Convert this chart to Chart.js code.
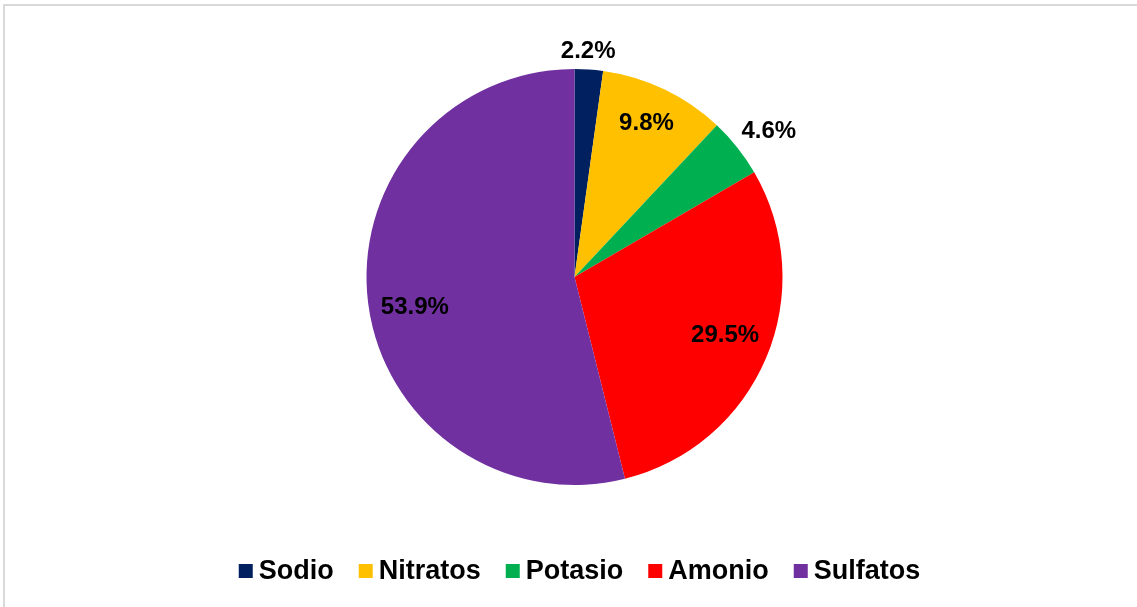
<!DOCTYPE html>
<html>
<head>
<meta charset="utf-8">
<script src="https://cdn.jsdelivr.net/npm/chart.js@4/dist/chart.umd.min.js"></script>
<style>
  html, body { margin: 0; padding: 0; background: #ffffff; overflow: hidden; }
  #wrap { position: relative; width: 1137px; height: 607px; }
  #frame { position: absolute; left: 3px; top: 4px; width: 1200px; height: 700px;
           border-left: 2px solid #d9d9d9; border-top: 2px solid #d9d9d9; box-sizing: border-box; }
  canvas { position: absolute; left: 0; top: 0; }
</style>
</head>
<body>
<div id="wrap">
  <div id="frame"></div>
  <canvas id="c" width="1137" height="607"></canvas>
</div>
<script>
// Composition of the ionic fraction (percent)
const categories = ['Sodio', 'Nitratos', 'Potasio', 'Amonio', 'Sulfatos'];
const shares = [2.2, 9.8, 4.6, 29.5, 53.9];
const sliceColors = ['#002060', '#FFC000', '#00B050', '#FF0000', '#7030A0'];

// Label placement: distance from the centre (share of radius) and a small angular nudge (degrees)
const labelDistance = [1.09, 0.82, 1.17, 0.775, 0.78];
const labelNudge = [-0.5, -0.6, 1.5, -2, -3.3];

const FONT = '"Liberation Sans", Arial, sans-serif';

// Percentage labels placed along each slice's middle angle
const sliceLabels = {
  id: 'sliceLabels',
  afterDatasetsDraw(chart) {
    const ctx = chart.ctx;
    const meta = chart.getDatasetMeta(0);
    ctx.save();
    ctx.font = 'bold 24px ' + FONT;
    ctx.fillStyle = '#000000';
    ctx.textAlign = 'center';
    ctx.textBaseline = 'middle';
    meta.data.forEach((arc, i) => {
      const p = arc.getProps(['x', 'y', 'startAngle', 'endAngle', 'outerRadius'], true);
      const mid = (p.startAngle + p.endAngle) / 2 + labelNudge[i] * Math.PI / 180;
      const r = p.outerRadius * labelDistance[i];
      const x = p.x + Math.cos(mid) * r;
      const y = p.y + Math.sin(mid) * r;
      ctx.fillText(shares[i].toFixed(1) + '%', x, y + 1);
    });
    ctx.restore();
  }
};

// Horizontal legend row under the pie
const bottomLegend = {
  id: 'bottomLegend',
  afterDraw(chart) {
    const ctx = chart.ctx;
    const box = 14, gapText = 6, gapItem = 25, cy = 571;
    ctx.save();
    ctx.font = 'bold 27px ' + FONT;
    ctx.textBaseline = 'middle';
    ctx.textAlign = 'left';
    const labels = chart.data.labels;
    const colors = chart.data.datasets[0].backgroundColor;
    const widths = labels.map(t => box + gapText + ctx.measureText(t).width);
    const total = widths.reduce((a, b) => a + b, 0) + gapItem * (labels.length - 1);
    let x = 579.5 - total / 2;
    labels.forEach((t, i) => {
      ctx.fillStyle = colors[i];
      ctx.fillRect(x, cy - box / 2, box, box);
      ctx.fillStyle = '#000000';
      ctx.fillText(t, x + box + gapText, cy + 1);
      x += widths[i] + gapItem;
    });
    ctx.restore();
  }
};

new Chart(document.getElementById('c'), {
  type: 'pie',
  data: {
    labels: categories,
    datasets: [{
      data: shares,
      backgroundColor: sliceColors,
      borderWidth: 0
    }]
  },
  options: {
    responsive: false,
    animation: false,
    layout: { padding: { top: 69, bottom: 122, left: 12, right: 0 } },
    plugins: {
      legend: { display: false },
      tooltip: { enabled: false }
    }
  },
  plugins: [sliceLabels, bottomLegend]
});
</script>
</body>
</html>
